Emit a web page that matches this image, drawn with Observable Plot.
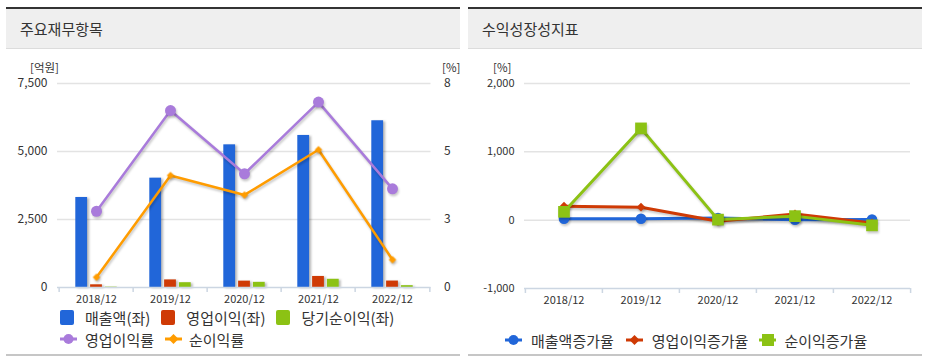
<!DOCTYPE html>
<html><head><meta charset="utf-8">
<script src="https://cdn.jsdelivr.net/npm/d3@7"></script>
<script src="https://cdn.jsdelivr.net/npm/@observablehq/plot@0.6"></script>
<style>
html,body{margin:0;padding:0;background:#fff;}
body{width:925px;height:359px;overflow:hidden;position:relative;font-family:"Noto Sans CJK KR","Noto Sans",sans-serif;color:#333;}
.panel{position:absolute;top:7px;width:454px;height:345px;border-top:2px solid #333;border-bottom:2px solid #c6c6c6;}
.hdr{position:absolute;left:0;top:0;width:454px;height:40px;background:#efefef;border-bottom:1px solid #dcdcdc;box-sizing:border-box;line-height:40px;padding-left:14px;font-size:15px;color:#333;}
.unit{position:absolute;font-size:11.5px;color:#333;line-height:12px;}
.chart{position:absolute;top:60px;}
.legend{position:absolute;display:flex;align-items:center;height:20px;font-size:15px;color:#333;white-space:nowrap;}
.legend .sw{display:inline-block;width:14px;height:15px;border-radius:2px;}
.legend svg{display:block;}
.chart svg g[aria-label="bar"]{filter:drop-shadow(2px 1px 1px rgba(0,0,0,0.28));}
.chart svg g[aria-label="line"]{filter:drop-shadow(1px 2px 1px rgba(0,0,0,0.22));}
.chart svg g[aria-label="dot"]{filter:drop-shadow(1px 2px 1px rgba(0,0,0,0.22));}
</style>
</head><body>
<div class="panel" style="left:6px"><div class="hdr">주요재무항목</div></div>
<div class="panel" style="left:468px"><div class="hdr">수익성장성지표</div></div>
<div class="unit" style="left:30px;top:61px">[억원]</div>
<div class="unit" style="left:442px;top:61px">[%]</div>
<div class="unit" style="left:493px;top:61px">[%]</div>
<div id="left" class="chart" style="left:6px"></div>
<div id="right" class="chart" style="left:468px"></div>
<div id="legL1" class="legend" style="left:60px;top:307px"></div>
<div id="legL2" class="legend" style="left:60px;top:329px"></div>
<div id="legR" class="legend" style="left:505px;top:330px"></div>
<script>
// ---- data ----
const years = ["2018/12", "2019/12", "2020/12", "2021/12", "2022/12"];
const sales = [3310, 4020, 5245, 5590, 6130];        // 매출액 (억원)
const opProfit = [99, 279, 234, 406, 237];           // 영업이익 (억원)
const netProfit = [13, 176, 190, 302, 67];           // 당기순이익 (억원)
const opMargin = [2.99, 6.94, 4.46, 7.27, 3.87];     // 영업이익률 (%)
const netMargin = [0.40, 4.39, 3.63, 5.40, 1.09];    // 순이익률 (%)
const leftTicks = [0, 2500, 5000, 7500];
const leftTickLabels = ["0", "2,500", "5,000", "7,500"];
const rightMax = 8;
const rightTickLabels = ["0", "3", "5", "8"];
const salesGrowth = [20, 21, 31, 7, 10];             // 매출액증가율 (%)
const opGrowth = [205, 190, -16, 90, -42];           // 영업이익증가율 (%)
const netGrowth = [122, 1343, 8, 59, -76];           // 순이익증가율 (%)
const growthTicks = [-1000, 0, 1000, 2000];
const growthTickLabels = ["-1,000", "0", "1,000", "2,000"];
const leftBarNames = ["매출액(좌)", "영업이익(좌)", "당기순이익(좌)"];
const leftLineNames = ["영업이익률", "순이익률"];
const rightNames = ["매출액증가율", "영업이익증가율", "순이익증가율"];

// ---- colours ----
const C = {blue: "#2166d9", red: "#cf3a05", green: "#8cc214", purple: "#a97bdb", orange: "#ff9c00"};
const FONT = '"Noto Sans CJK KR","Noto Sans",sans-serif';
const idx = d3.range(years.length);

// ---- left chart ----
{
  const W = 454, H = 247, mL = 51, mR = 29.5, mT = 23, mB = 20;
  const bw = (W - mL - mR) / years.length;
  const barW = 12.5, half = (bw - barW) / 2, off = 14.8;
  const toLeft = v => v * leftTicks[leftTicks.length - 1] / rightMax;
  const bar = (vals, fill, o) => Plot.barY(idx, {x: i => years[i], y: i => vals[i], fill, insetLeft: half + o, insetRight: half - o});
  const chart = Plot.plot({
    width: W, height: H, marginLeft: mL, marginRight: mR, marginTop: mT, marginBottom: mB,
    style: {fontFamily: FONT, color: "#333", background: "transparent", overflow: "visible"},
    x: {type: "band", domain: years, padding: 0},
    y: {domain: [0, 7500]},
    marks: [
      Plot.ruleY(leftTicks.slice(1), {stroke: "#e3e3e3", strokeWidth: 1.5}),
      bar(sales, C.blue, -off),
      bar(opProfit, C.red, 0),
      bar(netProfit, C.green, off),
      Plot.ruleY([0], {stroke: "#ccd6e2", strokeWidth: 1.5}),
      Plot.ruleX(idx, {x: i => years[i], dx: -bw / 2, insetTop: H - mT - mB, insetBottom: -5, stroke: "#ccd6e2", strokeWidth: 1.5}),
      Plot.ruleX([years.length - 1], {x: i => years[i], dx: bw / 2, insetTop: H - mT - mB, insetBottom: -5, stroke: "#ccd6e2", strokeWidth: 1.5}),
      Plot.line(idx, {x: i => years[i], y: i => toLeft(opMargin[i]), stroke: C.purple, strokeWidth: 2.5}),
      Plot.line(idx, {x: i => years[i], y: i => toLeft(netMargin[i]), stroke: C.orange, strokeWidth: 2.5}),
      Plot.dot(idx, {x: i => years[i], y: i => toLeft(opMargin[i]), r: 5.5, fill: C.purple, stroke: null}),
      Plot.dot(idx, {x: i => years[i], y: i => toLeft(netMargin[i]), r: 3.4, symbol: "diamond2", fill: C.orange, stroke: null}),
      Plot.axisY({ticks: leftTicks, tickFormat: (d, i) => leftTickLabels[i], tickSize: 0, tickPadding: 10, fontSize: 12}),
      Plot.axisY({anchor: "right", ticks: leftTicks, tickFormat: (d, i) => rightTickLabels[i], tickSize: 0, tickPadding: 13, fontSize: 12}),
      Plot.axisX({tickSize: 0, tickPadding: 8, fontSize: 11})
    ]
  });
  document.getElementById("left").append(chart);
}

// ---- right chart ----
{
  const W = 454, H = 248, mL = 56, mR = 12, mT = 23, mB = 20;
  const bw = (W - mL - mR) / years.length;
  const chart = Plot.plot({
    width: W, height: H, marginLeft: mL, marginRight: mR, marginTop: mT, marginBottom: mB,
    style: {fontFamily: FONT, color: "#333", background: "transparent", overflow: "visible"},
    x: {type: "band", domain: years, padding: 0},
    y: {domain: [-1000, 2000]},
    marks: [
      Plot.ruleY(growthTicks.slice(1), {stroke: "#e3e3e3", strokeWidth: 1.5}),
      Plot.ruleY([-1000], {stroke: "#ccd6e2", strokeWidth: 1.5}),
      Plot.ruleX(idx, {x: i => years[i], dx: -bw / 2, insetTop: H - mT - mB, insetBottom: -5, stroke: "#ccd6e2", strokeWidth: 1.5}),
      Plot.ruleX([years.length - 1], {x: i => years[i], dx: bw / 2, insetTop: H - mT - mB, insetBottom: -5, stroke: "#ccd6e2", strokeWidth: 1.5}),
      Plot.line(idx, {x: i => years[i], y: i => salesGrowth[i], stroke: C.blue, strokeWidth: 3}),
      Plot.line(idx, {x: i => years[i], y: i => opGrowth[i], stroke: C.red, strokeWidth: 3}),
      Plot.line(idx, {x: i => years[i], y: i => netGrowth[i], stroke: C.green, strokeWidth: 3}),
      Plot.dot(idx, {x: i => years[i], y: i => salesGrowth[i], r: 5.3, fill: C.blue, stroke: null}),
      Plot.dot(idx, {x: i => years[i], y: i => opGrowth[i], r: 4, symbol: "diamond2", fill: C.red, stroke: null}),
      Plot.dot(idx, {x: i => years[i], y: i => netGrowth[i], r: 6.6, symbol: "square", fill: C.green, stroke: null}),
      Plot.axisY({ticks: growthTicks, tickFormat: (d, i) => growthTickLabels[i], tickSize: 0, tickPadding: 10, fontSize: 11}),
      Plot.axisX({tickSize: 0, tickPadding: 8, fontSize: 11})
    ]
  });
  document.getElementById("right").append(chart);
}

// ---- legends ----
function marker(color, shape) {
  const s = d3.create("svg").attr("width", 17).attr("height", 14);
  s.append("line").attr("x1", 0).attr("x2", 17).attr("y1", 7).attr("y2", 7).attr("stroke", color).attr("stroke-width", 3);
  if (shape === "circle") s.append("circle").attr("cx", 8.5).attr("cy", 7).attr("r", 5).attr("fill", color);
  if (shape === "diamond") s.append("path").attr("d", "M8.5,2L13.5,7L8.5,12L3.5,7Z").attr("fill", color);
  if (shape === "square") s.append("rect").attr("x", 3).attr("y", 1).attr("width", 12).attr("height", 12).attr("fill", color);
  return s.node();
}
function addItem(container, swatch, label, gapAfterSwatch, gapAfterText) {
  const sw = document.createElement("span");
  sw.style.marginRight = gapAfterSwatch + "px";
  sw.style.display = "inline-flex";
  sw.append(swatch);
  const tx = document.createElement("span");
  tx.textContent = label;
  tx.style.marginRight = gapAfterText + "px";
  container.append(sw, tx);
}
function square(color) { const d = document.createElement("span"); d.className = "sw"; d.style.background = color; return d; }
const L1 = document.getElementById("legL1");
[C.blue, C.red, C.green].forEach((c, i) => addItem(L1, square(c), leftBarNames[i], 11, 11));
const L2 = document.getElementById("legL2");
addItem(L2, marker(C.purple, "circle"), leftLineNames[0], 8, 11);
addItem(L2, marker(C.orange, "diamond"), leftLineNames[1], 7, 0);
const LR = document.getElementById("legR");
addItem(LR, marker(C.blue, "circle"), rightNames[0], 9, 12);
addItem(LR, marker(C.red, "diamond"), rightNames[1], 9, 11);
addItem(LR, marker(C.green, "square"), rightNames[2], 8, 0);
</script>
</body></html>
